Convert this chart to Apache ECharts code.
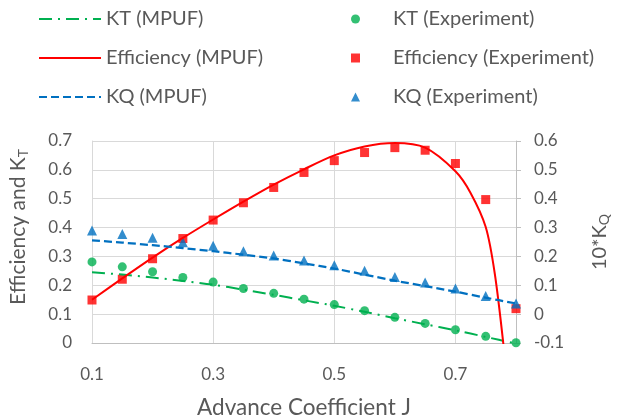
<!DOCTYPE html>
<html>
<head>
<meta charset="utf-8">
<script src="https://cdn.jsdelivr.net/npm/echarts@6/dist/echarts.min.js"></script>
<style>
html, body { margin: 0; padding: 0; background: #fff; }
#chart { width: 619px; height: 420px; }
</style>
</head>
<body>
<div id="chart"></div>
<script>
// experiment points
const jExp = [0.1, 0.15, 0.2, 0.25, 0.3, 0.35, 0.4, 0.45, 0.5, 0.55, 0.6, 0.65, 0.7, 0.75, 0.8];
const ktExp = [0.281, 0.264, 0.247, 0.227, 0.211, 0.189, 0.172, 0.152, 0.133, 0.112, 0.089, 0.068, 0.046, 0.023, 0.001];
const effExp = [0.149, 0.221, 0.292, 0.362, 0.426, 0.486, 0.539, 0.591, 0.632, 0.660, 0.677, 0.668, 0.622, 0.497, 0.119];
const kqExp = [0.290, 0.278, 0.265, 0.249, 0.237, 0.218, 0.203, 0.186, 0.169, 0.150, 0.129, 0.110, 0.089, 0.063, 0.037]; // 10*KQ

// MPUF curves
const jMpuf = [0.1, 0.15, 0.2, 0.25, 0.3, 0.35, 0.4, 0.45, 0.5, 0.55, 0.6, 0.65, 0.7, 0.75, 0.8];
const ktMpuf = [0.245, 0.237, 0.227, 0.215, 0.202, 0.185, 0.167, 0.148, 0.129, 0.108, 0.086, 0.065, 0.044, 0.021, -0.002];
const kqMpuf = [0.256, 0.248, 0.239, 0.229, 0.218, 0.206, 0.193, 0.176, 0.158, 0.137, 0.116, 0.097, 0.078, 0.057, 0.037];
const jEff = [0.1, 0.15, 0.2, 0.25, 0.3, 0.35, 0.4, 0.45, 0.5, 0.55, 0.6, 0.65, 0.7, 0.725, 0.75, 0.765, 0.78];
const effMpuf = [0.150, 0.224, 0.296, 0.364, 0.428, 0.490, 0.549, 0.602, 0.650, 0.681, 0.693, 0.677, 0.595, 0.520, 0.402, 0.240, -0.02];

const xLabels = [0.1, 0.3, 0.5, 0.7];
const xGrid = [0.1, 0.3, 0.5, 0.7, 0.8];

const pairs = (xs, ys) => xs.map((x, i) => [x, ys[i]]);

const txt = '#595959';
const font = 'Lato';
const green = '#00B050', red = '#FF0000', blue = '#0070C0';

let chart = echarts.init(document.getElementById('chart'));
let option = {
    animation: false,
    textStyle: { fontFamily: font },
    grid: { left: 87, right: 92, top: 141, bottom: 77 },
    legend: [
        {
            orient: 'vertical', left: 33, top: 4,
            itemWidth: 62, itemHeight: 14, itemGap: 19,
            itemStyle: { opacity: 0 },
            textStyle: { fontSize: 20, color: txt, fontFamily: font },
            data: ['KT (MPUF)', 'Efficiency (MPUF)', 'KQ (MPUF)']
        },
        {
            orient: 'vertical', left: 346, top: 4,
            itemWidth: 9, itemHeight: 9, itemGap: 19,
            textStyle: { fontSize: 20, color: txt, fontFamily: font, padding: [0, 0, 0, 28] },
            data: ['KT (Experiment)', 'Efficiency (Experiment)', 'KQ (Experiment)']
        }
    ],
    xAxis: {
        type: 'value', min: 0.1, max: 0.8,
        name: 'Advance Coefficient J', nameLocation: 'middle', nameGap: 53,
        nameTextStyle: { fontSize: 22.5, color: txt },
        axisLine: { lineStyle: { color: '#BFBFBF' } },
        axisTick: { show: false, customValues: xGrid },
        axisLabel: { customValues: xLabels, margin: 23, fontSize: 17, color: txt, formatter: v => v.toFixed(1) },
        splitLine: { show: true, lineStyle: { color: '#D9D9D9' } }
    },
    yAxis: [
        {
            type: 'value', min: 0, max: 0.7, interval: 0.1,
            name: 'Efficiency and K{sub|T}', nameLocation: 'middle', nameGap: 62,
            nameTextStyle: {
                fontSize: 21, color: txt, padding: [0, 0, 0, 30],
                rich: { sub: { fontSize: 14, color: txt, padding: [9, 0, 0, 0] } }
            },
            axisLine: { show: true, lineStyle: { color: '#D9D9D9' } },
            axisTick: { show: false },
            axisLabel: { margin: 20, fontSize: 17, color: txt },
            splitLine: { lineStyle: { color: '#D9D9D9' } }
        },
        {
            type: 'value', min: -0.1, max: 0.6, interval: 0.1, position: 'right',
            name: '10*K{sub|Q}', nameLocation: 'middle', nameGap: 72,
            nameTextStyle: {
                fontSize: 20, color: txt,
                rich: { sub: { fontSize: 14, color: txt, padding: [9, 0, 0, 0] } }
            },
            axisLine: { show: true, lineStyle: { color: '#BFBFBF' } },
            axisTick: { show: true, length: 5, lineStyle: { color: '#BFBFBF' } },
            axisLabel: { margin: 18, fontSize: 17, color: txt },
            splitLine: { show: false }
        }
    ],
    series: [
        {
            name: 'KT (MPUF)', type: 'line', smooth: 0.3, symbol: 'none',
            color: green, lineStyle: { width: 2, color: green, type: [13, 6, 2, 6] },
            data: pairs(jMpuf, ktMpuf), z: 3
        },
        {
            name: 'Efficiency (MPUF)', type: 'line', smooth: 0.3, symbol: 'none', clip: true,
            color: red, lineStyle: { width: 2, color: red },
            data: pairs(jEff, effMpuf), z: 3
        },
        {
            name: 'KQ (MPUF)', type: 'line', smooth: 0.3, symbol: 'none', yAxisIndex: 1,
            color: blue, lineStyle: { width: 2.25, color: blue, type: [8, 4] },
            data: pairs(jMpuf, kqMpuf), z: 3
        },
        {
            name: 'KT (Experiment)', type: 'scatter', symbol: 'circle', symbolSize: 9,
            itemStyle: { color: green }, data: pairs(jExp, ktExp), z: 2
        },
        {
            name: 'Efficiency (Experiment)', type: 'scatter', symbol: 'rect', symbolSize: 9,
            itemStyle: { color: red }, data: pairs(jExp, effExp), z: 2
        },
        {
            name: 'KQ (Experiment)', type: 'scatter', symbol: 'triangle', symbolSize: 10,
            yAxisIndex: 1, itemStyle: { color: blue }, data: pairs(jExp, kqExp), z: 2
        }
    ]
};
chart.setOption(option);
</script>
</body>
</html>
